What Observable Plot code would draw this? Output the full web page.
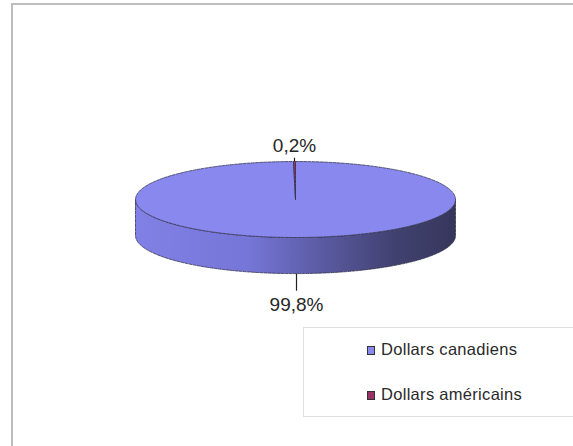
<!DOCTYPE html>
<html>
<head>
<meta charset="utf-8">
<script src="https://cdn.jsdelivr.net/npm/d3@7"></script>
<script src="https://cdn.jsdelivr.net/npm/@observablehq/plot@0.6"></script>
<style>
  html, body { margin: 0; padding: 0; background: #fff; }
  #wrap { position: relative; width: 573px; height: 446px; overflow: hidden; font-family: "Liberation Sans", Arial, sans-serif; }
  #frame { position: absolute; left: 11px; top: 3px; width: 700px; height: 600px; border-left: 2px solid #bdbdbd; border-top: 2px solid #bdbdbd; }
  #legend { position: absolute; left: 303px; top: 327px; width: 300px; height: 88px; border: 1.5px solid #dedede; border-right: none; background: #fff; }
  .item { position: absolute; left: 63px; font-size: 16.5px; color: #2a2a2a; white-space: nowrap; letter-spacing: 0.3px; }
  .sw { display: inline-block; width: 6px; height: 7px; border: 1px solid #333; margin-right: 6px; vertical-align: 0px; }
</style>
</head>
<body>
<div id="wrap">
  <div id="frame"></div>
  <div id="chart" style="position:absolute;left:0;top:0;"></div>
  <div id="legend"></div>
</div>
<script>
const categories = ["Dollars canadiens", "Dollars américains"];
const values = [99.8, 0.2];
const valueLabels = ["99,8%", "0,2%"];
const colors = ["#8888ee", "#993366"];

const depth = 0.95; // side thickness in y units
const arcs = d3.pie().sort(null).value(d => d)(values);

function arcPoints(a0, a1, dy = 0) {
  const n = Math.max(2, Math.ceil(Math.abs(a1 - a0) / 0.01));
  return d3.range(n + 1).map(i => {
    const a = a0 + (a1 - a0) * i / n;
    return {x: Math.sin(a), y: -Math.cos(a) + dy};
  });
}

// top faces
const topFaces = arcs.map((a, i) => [{x: 0, y: 0}, ...arcPoints(a.startAngle, a.endAngle)]);
// front side (visible half)
const sideTop = arcPoints(Math.PI / 2, 3 * Math.PI / 2);
const sideBottom = arcPoints(3 * Math.PI / 2, Math.PI / 2, depth);
const side = [...sideTop, ...sideBottom];

// labels
const labelData = arcs.map((a, i) => {
  const m = (a.startAngle + a.endAngle) / 2;
  const front = Math.cos(m) < 0;
  const ex = Math.sin(m), ey = -Math.cos(m) + (front ? depth : 0);
  return {
    label: valueLabels[i],
    x1: ex, y1: ey,
    x2: ex, y2: ey + (front ? 0.45 : -0.1),
    tx: ex, ty: ey + (front ? 0.82 : -0.42)
  };
});

const outline = {stroke: "#34344e", strokeWidth: 0.8, strokeDasharray: "3,1.2", curve: "linear-closed"};

const plot = Plot.plot({
  width: 573,
  height: 446,
  margin: 0,
  x: {domain: [-1, 1], range: [135, 455], axis: null},
  y: {domain: [-1, 1], range: [161, 237], axis: null},
  style: {background: "transparent"},
  marks: [
    Plot.line(side, {x: "x", y: "y", fill: "url(#sideGrad)", ...outline}),
    ...topFaces.map((pts, i) => Plot.line(pts, {x: "x", y: "y", fill: colors[i], ...outline})),
    Plot.link(labelData, {x1: "x1", y1: "y1", x2: "x2", y2: "y2", stroke: "#222", strokeWidth: 1.2}),
    Plot.text(labelData, {x: "tx", y: "ty", text: "label", fontSize: 19, fill: "#262626", fontFamily: "Liberation Sans, Arial, sans-serif"})
  ]
});

d3.select(plot).insert("defs", ":first-child").html(`
  <linearGradient id="sideGrad" x1="0" y1="0" x2="1" y2="0">
    <stop offset="0" stop-color="#8080e6"/>
    <stop offset="0.35" stop-color="#7676d8"/>
    <stop offset="0.55" stop-color="#5e5eaa"/>
    <stop offset="0.8" stop-color="#424272"/>
    <stop offset="1" stop-color="#36365c"/>
  </linearGradient>`);
document.getElementById("chart").appendChild(plot);

const legend = document.getElementById("legend");
categories.forEach((c, i) => {
  const d = document.createElement("div");
  d.className = "item";
  d.style.top = (12 + i * 45) + "px";
  d.innerHTML = `<span class="sw" style="background:${colors[i]}"></span>${c}`;
  legend.appendChild(d);
});
</script>
</body>
</html>
